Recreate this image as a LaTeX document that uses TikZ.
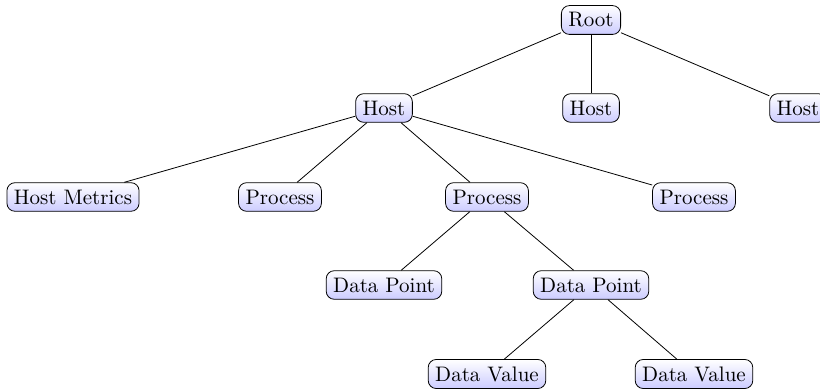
\documentclass[tikz,border=0pt]{standalone}
\begin{document}
\begin{tikzpicture}[x=0.5pt,y=-0.5pt]
        % Define style for the nodes
        \tikzstyle{box}=[draw,rounded corners=4pt,inner sep=3.5pt,font=\fontsize{10.5}{12}\selectfont,top color=white,bottom color=blue!20]
        \useasboundingbox (0,0) rectangle (820,389);

        % Root and hosts
        \node[box] (root) at (591,20) {Root};
        \node[box] (hostA) at (384,108) {Host};
        \node[box] (hostB) at (591,108) {Host};
        \node[box] (hostC) at (798,108) {Host};

        % Children of the first host
        \node[box] (metrics) at (73,197) {Host Metrics};
        \node[box] (procA) at (280,197) {Process};
        \node[box] (procB) at (487,197) {Process};
        \node[box] (procC) at (694,197) {Process};

        % Data points and values
        \node[box] (pointA) at (384,285) {Data Point};
        \node[box] (pointB) at (591,285) {Data Point};
        \node[box] (valueA) at (487,374) {Data Value};
        \node[box] (valueB) at (694,374) {Data Value};

        % Connect the nodes
        \draw (root) -- (hostA);
        \draw (root) -- (hostB);
        \draw (root) -- (hostC);
        \draw (hostA) -- (metrics);
        \draw (hostA) -- (procA);
        \draw (hostA) -- (procB);
        \draw (hostA) -- (procC);
        \draw (procB) -- (pointA);
        \draw (procB) -- (pointB);
        \draw (pointB) -- (valueA);
        \draw (pointB) -- (valueB);
\end{tikzpicture}
\end{document}
